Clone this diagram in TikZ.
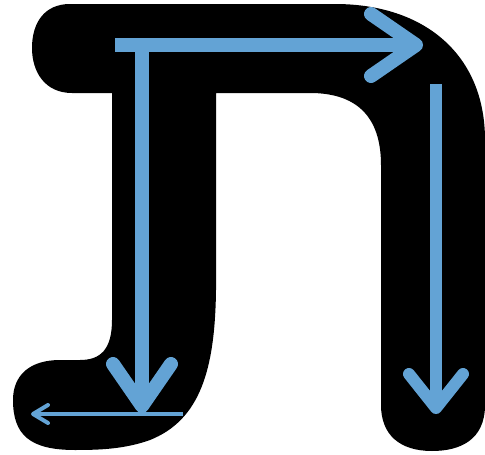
\documentclass[tikz,border=0pt]{standalone}
\begin{document}
\begin{tikzpicture}[x=1pt,y=-1pt,
  glyph/.style={fill=black,draw=none},
  stroke/.style={draw=strokeblue,line width=14pt,line cap=round,line join=round},
  shaft/.style={draw=strokeblue,line width=14pt,line cap=butt}]
\definecolor{strokeblue}{RGB}{99,163,213}
\useasboundingbox (0,0) rectangle (485,455);
% letter shape
\path[glyph] (70,4) -- (335,4)
  .. controls (425,4) and (485,55) .. (485,140)
  -- (485,405)
  .. controls (485,440) and (460,451) .. (432,451)
  .. controls (400,451) and (381,435) .. (381,405)
  -- (381,165)
  .. controls (381,115) and (355,93) .. (310,93)
  -- (216,93) -- (216,290)
  .. controls (215,370) and (200,420) .. (150,440)
  .. controls (125,449) and (100,450) .. (75,450)
  .. controls (30,450) and (13,435) .. (13,400)
  .. controls (13,375) and (30,360) .. (60,360)
  -- (80,360)
  .. controls (100,360) and (112,350) .. (112,320)
  -- (112,93) -- (72,93)
  .. controls (45,93) and (32,72) .. (32,48)
  .. controls (32,22) and (45,4) .. (70,4) -- cycle;
% coordinates of strokes
\coordinate (s1a) at (115,45);
\coordinate (s1b) at (416,45);
\coordinate (s2a) at (142,45);
\coordinate (s2b) at (142,406);
\coordinate (s3a) at (436,84);
\coordinate (s3b) at (436,408);
\coordinate (s4a) at (183,414);
\coordinate (s4b) at (33,414);
% stroke 1
\draw[shaft] (s1a) -- (s1b);
\draw[stroke] (371,14) -- (s1b) -- (371,76);
% stroke 2
\draw[shaft] (s2a) -- (s2b);
\draw[stroke] (113,364) -- (s2b) -- (171,364);
% stroke 3
\draw[shaft,line width=12pt] (s3a) -- (s3b);
\draw[stroke,line width=12pt] (409,374) -- (s3b) -- (463,374);
% stroke 4
\draw[shaft,line width=4pt] (s4a) -- (s4b);
\draw[stroke,line width=4pt] (48,405) -- (s4b) -- (48,423);
\end{tikzpicture}
\end{document}
